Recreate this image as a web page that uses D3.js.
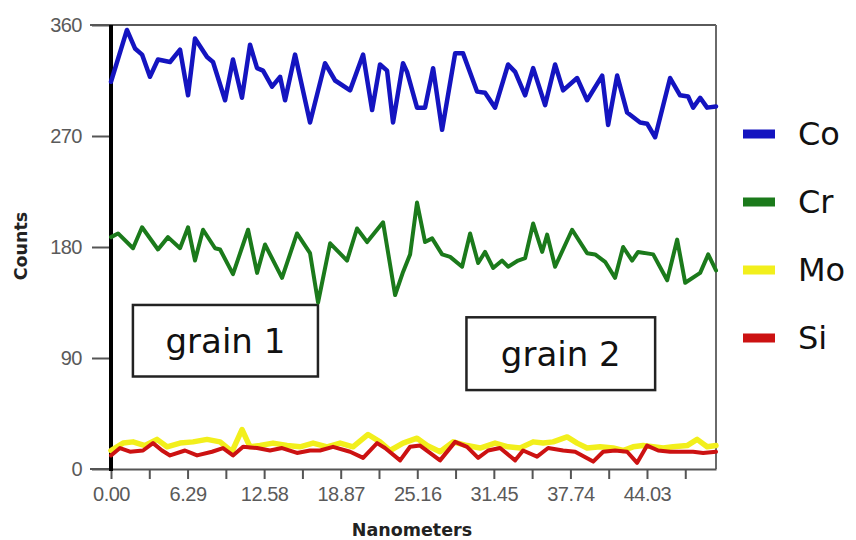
<!DOCTYPE html>
<html>
<head>
<meta charset="utf-8">
<script src="https://cdn.jsdelivr.net/npm/d3@7"></script>
<style>
  html, body { margin: 0; padding: 0; background: #fff; }
  svg { display: block; }
</style>
</head>
<body>
<svg id="chart" width="856" height="540"></svg>
<script>
// Line-scan profile: counts per element along the scan (nanometers)
const elements = ["Co", "Cr", "Mo", "Si"];
const colors = ["#1414c0", "#1b7a1b", "#f2ef1c", "#cc1212"];

const coData = [[0,314],[1.31,356],[1.97,341],[2.55,336],[3.2,318],[3.86,332],[4.85,330],[5.67,340],[6.33,303],[6.9,349],[7.89,334],[8.38,330],[9.37,299],[10.02,332],[10.76,301],[11.42,344],[12.0,325],[12.49,323],[13.23,310],[13.89,318],[14.3,299],[15.12,336],[16.35,281],[17.58,329],[18.41,315],[19.64,307],[20.71,336],[21.45,291],[22.1,328],[22.68,323],[23.17,281],[23.99,329],[24.32,322],[25.14,293],[25.8,293],[26.46,325],[27.2,275],[28.27,337],[28.92,337],[30.07,306],[30.73,305],[31.55,293],[32.62,328],[33.2,322],[34.02,303],[34.68,325],[35.66,295],[36.48,328],[37.14,307],[38.29,317],[39.11,299],[40.35,319],[40.84,279],[41.58,319],[42.4,289],[43.47,281],[44.04,280],[44.7,269],[45.93,317],[46.75,303],[47.41,302],[47.82,293],[48.4,301],[48.97,293],[49.7,294]];

const crData = [[0,188],[0.58,191],[1.81,179],[2.55,196],[3.86,178],[4.68,188],[5.67,179],[6.33,196],[6.9,169],[7.56,194],[8.55,179],[8.96,178],[10.02,158],[11.26,194],[12.0,159],[12.65,182],[14.05,155],[15.28,191],[16.35,175],[17.01,135],[18.0,183],[19.39,169],[20.21,195],[21.04,184],[22.35,200],[23.34,141],[24.0,160],[24.57,174],[25.14,216],[25.8,184],[26.38,187],[27.2,174],[27.86,172],[28.84,164],[29.5,191],[30.16,167],[30.73,176],[31.39,163],[32.13,169],[32.62,164],[33.44,169],[34.02,171],[34.68,199],[35.42,176],[35.83,190],[36.48,164],[37.88,194],[39.11,175],[39.77,174],[40.59,168],[41.41,155],[42.07,180],[42.81,169],[43.3,176],[44.54,174],[45.69,153],[46.51,186],[47.17,151],[48.4,159],[49.06,174],[49.7,161]];

const moData = [[0,15],[0.99,21],[1.81,22],[2.79,19],[3.78,24],[4.6,18],[5.67,21],[6.74,22],[7.89,24],[8.96,22],[9.94,14],[10.76,32],[11.42,18],[12.24,19],[13.31,21],[14.46,19],[15.53,18],[16.6,21],[17.75,18],[18.82,21],[19.88,18],[21.12,28],[22.1,22],[22.93,15],[23.99,21],[25.14,25],[25.97,19],[27.03,14],[28.1,22],[29.25,19],[30.32,17],[31.55,21],[32.62,18],[33.61,17],[34.68,22],[35.5,21],[36.32,22],[37.47,26],[38.29,21],[39.11,17],[40.18,18],[41.25,17],[42.07,15],[42.89,18],[43.71,19],[44.54,18],[45.36,17],[46.18,18],[47.33,19],[48.15,24],[48.97,18],[49.7,19]];

const siData = [[0,11],[0.74,17],[1.56,14],[2.63,15],[3.45,21],[4.19,15],[4.85,11],[6.08,15],[7.07,11],[8.3,14],[9.2,17],[10.02,11],[10.85,18],[12.0,17],[13.06,15],[14.05,17],[15.28,13],[16.35,15],[17.17,15],[18.24,18],[19.64,14],[20.71,9],[21.86,21],[22.51,17],[23.75,7],[24.57,18],[25.39,19],[27.03,7],[28.27,22],[29.25,18],[30.16,9],[30.98,15],[31.96,17],[33.2,7],[33.85,15],[35.0,10],[35.91,17],[37.14,15],[38.13,14],[39.61,6],[40.43,14],[41.41,15],[42.4,14],[43.22,5],[44.04,19],[44.95,15],[45.93,14],[47.0,14],[47.82,14],[48.64,13],[49.7,14]];

const seriesData = [coData, crData, moData, siData];

const yTicks = [0, 90, 180, 270, 360];
const xTickStep = 3.145;
const xTickLabels = ["0.00", "6.29", "12.58", "18.87", "25.16", "31.45", "37.74", "44.03"];
const annotations = [
  { text: "grain 1", x0: 1.8, x1: 17.0, y0: 133, y1: 75 },
  { text: "grain 2", x0: 29.2, x1: 44.7, y0: 123, y1: 64 }
];

const svg = d3.select("#chart");
const plot = { left: 111, right: 716, top: 25, bottom: 469 };

const x = d3.scaleLinear().domain([0, 49.7]).range([plot.left, plot.right]);
const y = d3.scaleLinear().domain([0, 360]).range([plot.bottom, plot.top]);

// Frame (top and right borders)
svg.append("line")
  .attr("x1", plot.left - 21).attr("x2", plot.right)
  .attr("y1", plot.top).attr("y2", plot.top)
  .attr("stroke", "#5a5a5a").attr("stroke-width", 2);
svg.append("line")
  .attr("x1", plot.right).attr("x2", plot.right)
  .attr("y1", plot.top).attr("y2", plot.bottom)
  .attr("stroke", "#6a6a6a").attr("stroke-width", 2);

// Bottom axis with minor ticks between the labelled ones
const xTickValues = d3.range(0, 16).map(i => i * xTickStep);
const xAxis = d3.axisBottom(x)
  .tickValues(xTickValues)
  .tickSize(10)
  .tickSizeOuter(0)
  .tickFormat((d, i) => (i % 2 === 0 && xTickLabels[i / 2] !== undefined) ? xTickLabels[i / 2] : "");
const gx = svg.append("g")
  .attr("transform", `translate(0,${plot.bottom})`)
  .call(xAxis);
gx.select(".domain").attr("stroke", "#555").attr("stroke-width", 2);
gx.selectAll(".tick line").attr("stroke", "#555").attr("stroke-width", 2);
gx.selectAll(".tick text")
  .attr("y", 18)
  .attr("fill", "#5a5a5a")
  .style("font-family", "'Liberation Sans', Arial, sans-serif")
  .style("font-size", "20px")
  .style("letter-spacing", "-0.5px");
svg.append("line")
  .attr("x1", plot.left - 21).attr("x2", plot.left)
  .attr("y1", plot.bottom).attr("y2", plot.bottom)
  .attr("stroke", "#555").attr("stroke-width", 2);

// Left axis
const yAxis = d3.axisLeft(y).tickValues(yTicks).tickSize(19).tickSizeOuter(0).tickFormat(d3.format("d"));
const gy = svg.append("g")
  .attr("transform", `translate(${plot.left},0)`)
  .call(yAxis);
gy.selectAll(".tick line").attr("stroke", "#555").attr("stroke-width", 2);
gy.selectAll(".tick text")
  .attr("x", -29)
  .attr("fill", "#5a5a5a")
  .style("font-family", "'Liberation Sans', Arial, sans-serif")
  .style("font-size", "20px")
  .style("letter-spacing", "-0.5px");
gy.select(".domain").remove();
svg.append("line")
  .attr("x1", plot.left).attr("x2", plot.left)
  .attr("y1", plot.top).attr("y2", plot.bottom + 2)
  .attr("stroke", "#000").attr("stroke-width", 4);

// Axis titles
svg.append("text")
  .attr("x", 412).attr("y", 536)
  .attr("text-anchor", "middle")
  .attr("fill", "#222")
  .style("font-family", "'DejaVu Sans', sans-serif")
  .style("font-weight", "bold")
  .style("font-size", "17.5px")
  .text("Nanometers");
svg.append("text")
  .attr("transform", "translate(27,246) rotate(-90)")
  .attr("text-anchor", "middle")
  .attr("fill", "#222")
  .style("font-family", "'DejaVu Sans', sans-serif")
  .style("font-weight", "bold")
  .style("font-size", "17.5px")
  .text("Counts");

// Annotation boxes
annotations.forEach(a => {
  svg.append("rect")
    .attr("x", x(a.x0)).attr("y", y(a.y0))
    .attr("width", x(a.x1) - x(a.x0)).attr("height", y(a.y1) - y(a.y0))
    .attr("fill", "#fff").attr("stroke", "#222").attr("stroke-width", 2.5);
  svg.append("text")
    .attr("x", (x(a.x0) + x(a.x1)) / 2)
    .attr("y", (y(a.y0) + y(a.y1)) / 2 + 12)
    .attr("text-anchor", "middle")
    .attr("fill", "#111")
    .style("font-family", "'DejaVu Sans', Verdana, sans-serif")
    .style("font-size", "34px")
    .text(a.text);
});

// Element lines
const line = d3.line().x(d => x(d[0])).y(d => y(d[1]));
const widths = [4.5, 4, 5.5, 4];
const drawOrder = [2, 3, 1, 0];
drawOrder.forEach(i => {
  svg.append("path")
    .datum(seriesData[i])
    .attr("d", line)
    .attr("fill", "none")
    .attr("stroke", colors[i])
    .attr("stroke-width", widths[i])
    .attr("stroke-linejoin", "round")
    .attr("stroke-linecap", "round");
});

// Legend
const legend = svg.append("g").attr("transform", "translate(743,134)");
elements.forEach((name, i) => {
  const g = legend.append("g").attr("transform", `translate(0,${i * 68})`);
  g.append("rect")
    .attr("x", 0).attr("y", -4.5)
    .attr("width", 32).attr("height", 9)
    .attr("fill", colors[i]);
  g.append("text")
    .attr("x", 55).attr("y", 11)
    .attr("fill", "#111")
    .style("font-family", "'DejaVu Sans', Verdana, sans-serif")
    .style("font-size", "32px")
    .text(name);
});
</script>
</body>
</html>
